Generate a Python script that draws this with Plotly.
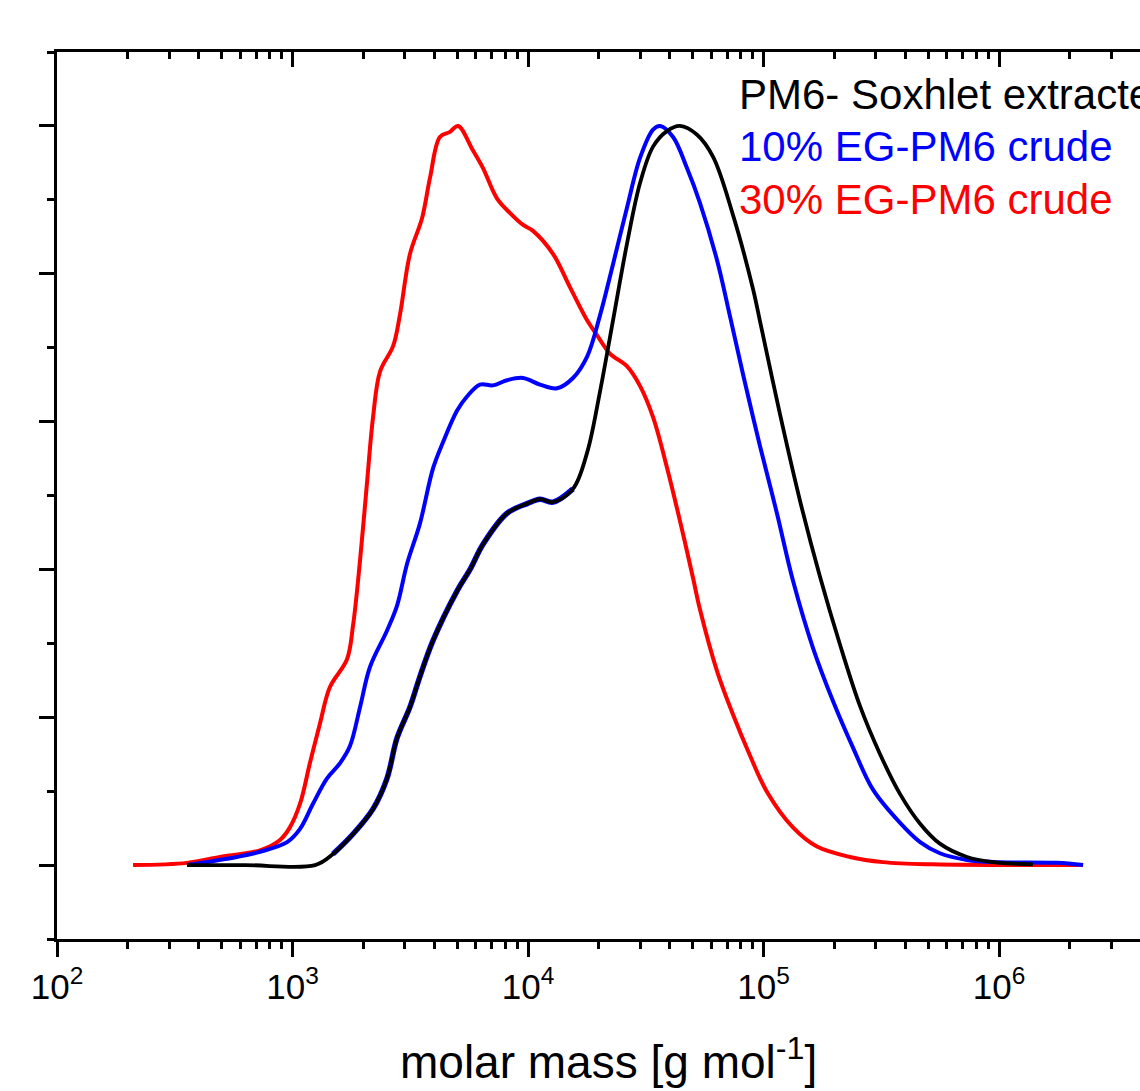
import numpy as np
import plotly.graph_objects as go

# log10 of molar mass (g/mol) and normalised intensity
red_logm = [2.323, 2.552, 2.692, 2.862, 2.947, 2.989, 3.032, 3.074, 3.117, 3.159, 3.231, 3.257, 3.287,
            3.316, 3.342, 3.372, 3.427, 3.456, 3.499, 3.550, 3.584, 3.626, 3.669, 3.703, 3.766, 3.809,
            3.868, 3.924, 3.979, 4.021, 4.106, 4.178, 4.251, 4.293, 4.348, 4.420, 4.476, 4.531, 4.590,
            4.645, 4.701, 4.730, 4.803, 4.870, 4.943, 5.015, 5.125, 5.227, 5.367, 5.507, 5.720, 6.357]
red_int = [0, 0.003, 0.011, 0.020, 0.034, 0.051, 0.083, 0.138, 0.192, 0.241, 0.278, 0.324, 0.413,
           0.516, 0.606, 0.668, 0.702, 0.744, 0.827, 0.875, 0.930, 0.985, 0.992, 1.0, 0.967, 0.943,
           0.902, 0.882, 0.866, 0.858, 0.827, 0.782, 0.737, 0.717, 0.692, 0.675, 0.648, 0.606, 0.538,
           0.466, 0.388, 0.346, 0.262, 0.204, 0.148, 0.099, 0.051, 0.025, 0.011, 0.004, 0.001, 0]

blue_logm = [2.552, 2.764, 2.862, 2.977, 3.032, 3.087, 3.146, 3.202, 3.244, 3.287, 3.329, 3.401, 3.444,
             3.486, 3.541, 3.597, 3.639, 3.699, 3.741, 3.796, 3.851, 3.911, 3.979, 4.051, 4.123, 4.191,
             4.251, 4.306, 4.361, 4.420, 4.476, 4.531, 4.561, 4.616, 4.675, 4.730, 4.803, 4.858, 4.913,
             4.985, 5.057, 5.125, 5.210, 5.295, 5.380, 5.465, 5.580, 5.665, 5.749, 5.864, 6.004, 6.246,
             6.357]
blue_int = [0, 0.011, 0.018, 0.031, 0.049, 0.083, 0.117, 0.138, 0.161, 0.214, 0.268, 0.317, 0.351,
            0.407, 0.462, 0.537, 0.572, 0.615, 0.634, 0.650, 0.649, 0.656, 0.659, 0.650, 0.645, 0.659,
            0.688, 0.744, 0.813, 0.889, 0.957, 0.995, 1.0, 0.985, 0.943, 0.896, 0.818, 0.742, 0.664,
            0.567, 0.476, 0.385, 0.294, 0.222, 0.159, 0.102, 0.057, 0.031, 0.016, 0.007, 0.004, 0.003,
            0]

black_logm = [2.552, 2.8, 3.096, 3.172, 3.257, 3.342, 3.401, 3.444, 3.499, 3.541, 3.597, 3.699,
              3.754, 3.809, 3.911, 3.996, 4.051, 4.106, 4.191, 4.251, 4.306, 4.361, 4.420, 4.476, 4.531,
              4.590, 4.645, 4.718, 4.786, 4.870, 4.955, 4.985, 5.070, 5.155, 5.240, 5.325, 5.410, 5.495,
              5.580, 5.665, 5.749, 5.864, 5.975, 6.144]
black_int = [0, 0, 0, 0.015, 0.042, 0.076, 0.117, 0.172, 0.214, 0.255, 0.304, 0.371,
             0.400, 0.434, 0.476, 0.489, 0.495, 0.491, 0.509, 0.558, 0.641, 0.737, 0.840, 0.923, 0.972,
             0.993, 1.0, 0.988, 0.958, 0.880, 0.78, 0.736, 0.610, 0.493, 0.390, 0.298, 0.215, 0.150,
             0.096, 0.056, 0.029, 0.011, 0.004, 0.001]

labels = ["PM6- Soxhlet extracted", "10% EG-PM6 crude", "30% EG-PM6 crude"]
colors = ["#000000", "#0000FF", "#FF0000"]
decades = [2, 3, 4, 5, 6]

FONT = "Liberation Sans, Arial, sans-serif"

fig = go.Figure()

def add_curve(logm, inten, color, width):
    fig.add_trace(go.Scatter(x=10 ** np.array(logm), y=inten, mode="lines",
                             line=dict(color=color, width=width, shape="spline", smoothing=1.0),
                             showlegend=False, hoverinfo="skip"))

add_curve(red_logm, red_int, colors[2], 4)
add_curve(blue_logm, blue_int, colors[1], 4)
# blue fringe under the black curve where the traces overlap
bl = np.array(black_logm)
mask = (bl >= 3.17) & (bl <= 4.2)
add_curve(bl[mask], np.array(black_int)[mask], colors[1], 5.5)
add_curve(black_logm, black_int, colors[0], 3.8)

# empty trace so the top axis is drawn
fig.add_trace(go.Scatter(x=[], y=[], xaxis="x2", showlegend=False))

xr = [2, 2 + (1140 - 57) / 235.5]
major = [10 ** d for d in decades]
minor = [k * 10 ** d for d in decades for k in range(2, 10)]

axis_common = dict(type="log", range=xr, showgrid=False, zeroline=False, showline=True,
                   linecolor="black", linewidth=3, tickcolor="black", tickwidth=3)

fig.update_layout(
    width=1140, height=1091,
    margin=dict(l=57, r=0, t=52, b=152),
    paper_bgcolor="white", plot_bgcolor="white",
    font=dict(family=FONT, color="black"),
    xaxis=dict(**axis_common, ticks="outside", ticklen=15,
               tickmode="array", tickvals=major,
               ticktext=["10<sup>%d</sup>" % d for d in decades],
               tickfont=dict(size=35, family=FONT),
               minor=dict(tickmode="array", tickvals=minor, ticks="outside", ticklen=7,
                          tickwidth=3, tickcolor="black")),
    xaxis2=dict(**axis_common, overlaying="x", side="top", anchor="y", ticks="inside", ticklen=15,
                tickmode="array", tickvals=major, showticklabels=False,
                minor=dict(tickmode="array", tickvals=minor, ticks="inside", ticklen=7,
                           tickwidth=3, tickcolor="black")),
    yaxis=dict(range=[-0.1, 1.1], showgrid=False, zeroline=False, showline=True,
               linecolor="black", linewidth=3, ticks="outside", ticklen=15, tickwidth=3,
               tickcolor="black", tickmode="linear", tick0=0, dtick=0.2, showticklabels=False,
               minor=dict(dtick=0.1, ticks="outside", ticklen=7, tickwidth=3, tickcolor="black")),
)

# x-axis title
fig.add_annotation(text="molar mass [g mol<sup>-1</sup>]", xref="paper", yref="paper",
                   x=(608 - 57) / (1140 - 57), y=-0.135, xanchor="center", yanchor="middle",
                   showarrow=False, font=dict(size=46, family=FONT, color="black"))

for i, (lab, col) in enumerate(zip(labels, colors)):
    fig.add_annotation(text=lab, xref="paper", yref="paper", x=(737 - 57) / (1140 - 57),
                       y=[0.952, 0.894, 0.834][i], xanchor="left", yanchor="middle",
                       showarrow=False, font=dict(size=42, color=col, family=FONT))

fig.write_html("out.html", config={"displayModeBar": False},
               post_script="document.body.style.margin='0';")
